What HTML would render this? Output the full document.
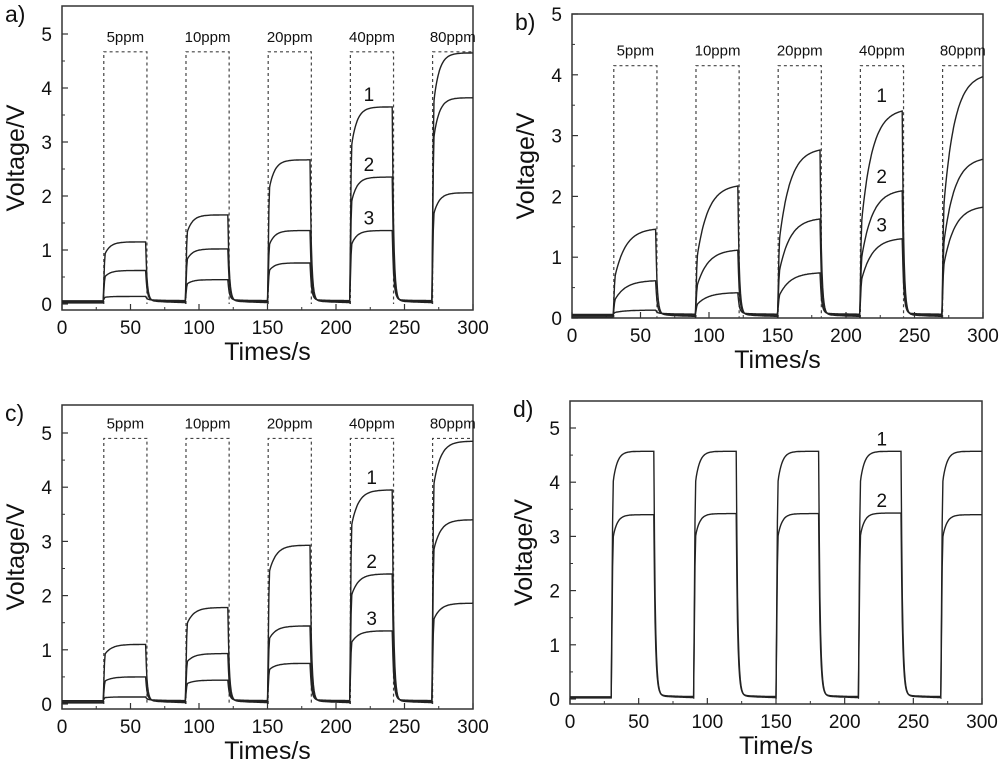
<!DOCTYPE html>
<html><head><meta charset="utf-8"><style>
html,body{margin:0;padding:0;background:#fff;}
svg{display:block;font-family:"Liberation Sans",Arial,sans-serif;}
</style></head><body>
<svg id="fig" width="1000" height="765" viewBox="0 0 1000 765" xmlns="http://www.w3.org/2000/svg"></svg>
<script>
// ---- data ----
const pulseOn = [30, 90, 150, 210, 270];
const pulseOff = [61, 121, 181, 241, 300];
const concLabels = ["5ppm", "10ppm", "20ppm", "40ppm", "80ppm"];
const xTicks = [0, 50, 100, 150, 200, 250, 300];
const yTicks = [0, 1, 2, 3, 4, 5];
const aS1 = [1.15, 1.65, 2.67, 3.65, 4.65];
const aS2 = [0.62, 1.02, 1.36, 2.35, 3.82];
const aS3 = [0.14, 0.45, 0.76, 1.36, 2.06];
const bS1 = [1.48, 2.20, 2.80, 3.45, 4.03];
const bS2 = [0.62, 1.13, 1.65, 2.12, 2.65];
const bS3 = [0.13, 0.42, 0.75, 1.32, 1.85];
const cS1 = [1.10, 1.78, 2.93, 3.95, 4.85];
const cS2 = [0.50, 0.93, 1.44, 2.40, 3.40];
const cS3 = [0.13, 0.44, 0.75, 1.35, 1.86];
const dS1 = [4.57, 4.57, 4.57, 4.57, 4.57];
const dS2 = [3.40, 3.42, 3.42, 3.43, 3.40];
const boxLevel = {a: 4.67, b: 4.15, c: 4.9};

const NS = "http://www.w3.org/2000/svg";
const svg = document.getElementById("fig");
function mk(tag, attrs, parent) {
  const e = document.createElementNS(NS, tag);
  for (const k in attrs) e.setAttribute(k, attrs[k]);
  (parent || svg).appendChild(e);
  return e;
}

const panels = [
  {id:"a", L:62, R:473, T:6, B:310, y0:304, y5:34, series:[aS1,aS2,aS3], jump:0.72, tau:4, lblX:224, xt:"Times/s", box:true},
  {id:"b", L:572, R:983, T:14, B:318, y0:318, y5:14, series:[bS1,bS2,bS3], jump:0.35, tau:8, lblX:226, xt:"Times/s", box:true},
  {id:"c", L:62, R:473, T:405, B:709, y0:704, y5:433, series:[cS1,cS2,cS3], jump:0.78, tau:5, lblX:226, xt:"Times/s", box:true},
  {id:"d", L:570, R:982, T:401, B:704, y0:699, y5:428, series:[dS1,dS2], jump:0.8, tau:3, lblX:227, xt:"Time/s", box:false}
];

panels.forEach(p => {
  const g = mk("g", {});
  
  
  const sx = t => p.L + (t / 300) * (p.R - p.L);
  const sy = v => p.y0 - v * (p.y0 - p.y5) / 5;
  const fr = mk("rect", {x:p.L, y:p.T, width:p.R-p.L, height:p.B-p.T, fill:"none", stroke:"#333", "stroke-width":1.5}, g);
  
  
  xTicks.forEach(t => {
    mk("line", {x1:sx(t), x2:sx(t), y1:p.B, y2:p.B-6, stroke:"#333", "stroke-width":1.2}, g);
    if (t < 300) mk("line", {x1:sx(t+25), x2:sx(t+25), y1:p.B, y2:p.B-3, stroke:"#333", "stroke-width":1}, g);
    const tx = mk("text", {x:sx(t), y:p.B+24, "font-size":19, "text-anchor":"middle", fill:"#111"}, g);
    tx.textContent = t;
    
    
  });
  yTicks.forEach(v => {
    mk("line", {x1:p.L, x2:p.L+6, y1:sy(v), y2:sy(v), stroke:"#333", "stroke-width":1.2}, g);
    if (v < 5) mk("line", {x1:p.L, x2:p.L+3, y1:sy(v+0.5), y2:sy(v+0.5), stroke:"#333", "stroke-width":1}, g);
    const ty = mk("text", {x:p.L-10, y:sy(v)+7, "font-size":19, "text-anchor":"end", fill:"#111"}, g);
    ty.textContent = v;
    
    
  });
  const xt = mk("text", {x:(p.L+p.R)/2, y:p.B+50, "font-size":25, "text-anchor":"middle", fill:"#111"}, g);
  xt.textContent = p.xt;
  
  
  const cy = (p.T+p.B)/2;
  const yt = mk("text", {x:0, y:0, "font-size":25, "text-anchor":"middle", fill:"#111", transform:`translate(${p.L-38},${cy}) rotate(-90)`}, g);
  yt.textContent = "Voltage/V";
  
  
  const pl = mk("text", {x:p.L-57, y:p.T+16, "font-size":23, fill:"#111"}, g);
  pl.textContent = p.id + ")";
  
  
  if (p.box) {
    pulseOn.forEach((on, i) => {
      const off = Math.min(pulseOff[i]+1, 300);
      const x1 = sx(on+0.5), x2 = sx(off), yb = sy(boxLevel[p.id]);
      const bx = mk("path", {d:`M${x1},${sy(0)} L${x1},${yb} L${x2},${yb} L${x2},${sy(0)}`, fill:"none", stroke:"#444", "stroke-width":1.2, "stroke-dasharray":"3,3"}, g);
      
      
      const cl = mk("text", {x:(x1+x2)/2, y:yb-10, "font-size":15, "text-anchor":"middle", fill:"#111"}, g);
      cl.textContent = concLabels[i];
      
      
    });
  }
  p.series.forEach((vals, si) => {
    const base = 0.02 + 0.02*si;
    let d = "";
    for (let t = 0; t <= 300; t += 0.5) {
      let v = base;
      for (let i = 0; i < pulseOn.length; i++) {
        const on = pulseOn[i], off = pulseOff[i], P = vals[i];
        if (t >= on && t <= off) {
          const dt = t - on;
          v = base + (P-base) * (1 - (1-p.jump)*Math.exp(-dt/p.tau)) * Math.min(1, dt/1.2);
        } else if (i < 4 && t > off && t < pulseOn[i+1]) {
          const dt = t - off;
          const tail = 0.05 - 0.015*si;
          v = base + tail*Math.exp(-dt/15) + (P-base-tail)*Math.exp(-dt/1.1);
        }
      }
      d += (d ? "L" : "M") + sx(t).toFixed(1) + "," + sy(v).toFixed(1);
    }
    const path = mk("path", {d:d, fill:"none", stroke:"#222", "stroke-width":1.4}, g);
    
    
    const lt = mk("text", {x:sx(p.lblX), y:sy(vals[3])-6, "font-size":19, "text-anchor":"middle", fill:"#111"}, g);
    lt.textContent = si + 1;
    
    
  });
});
</script>
</body></html>
